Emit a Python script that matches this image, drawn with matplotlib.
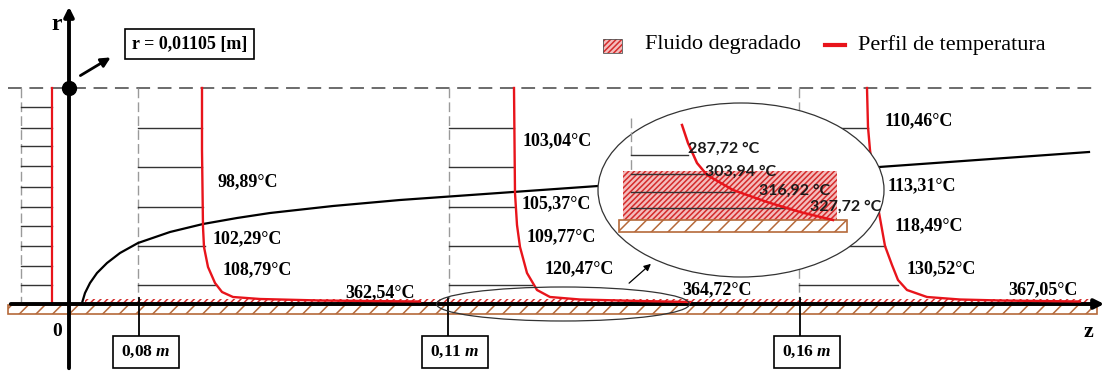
import matplotlib
matplotlib.use("Agg")
import matplotlib.pyplot as plt
from matplotlib.patches import Rectangle, Ellipse, FancyArrowPatch

plt.rcParams['font.family'] = ['Liberation Serif', 'DejaVu Sans']
plt.rcParams['mathtext.fontset'] = 'custom'
plt.rcParams['mathtext.rm'] = 'Liberation Serif:bold'
plt.rcParams['mathtext.it'] = 'Liberation Serif:italic:bold'
plt.rcParams['hatch.linewidth'] = 1.1

# schematic coordinates (z to the right, r downwards in picture units)
wall_y = 304
top_y = 88

# left inlet profile
inlet_x = [21, 52]
inlet_rows = [107, 128, 146, 166, 187, 207, 226, 246, 266, 285]

# profiles along z: dashed line position, row heights, row ends
prof_x = [138, 449, 799]
prof_rows = [128, 167, 207, 246, 285]
prof_ends = [[202, 202, 203, 205, 215],
             [514, 514, 515, 519, 532],
             [868, 869, 875, 885, 898]]

# temperature profile curves (red)
red1_z = [202, 202, 203, 204, 208, 215, 222, 233, 260, 320, 420]
red1_r = [88, 150, 227, 247, 267, 283, 292, 297, 299, 300.5, 301.5]
red2_z = [514, 515, 517, 520, 527, 537, 550, 580, 640, 690]
red2_r = [88, 193, 225, 247, 273, 290, 297, 299.5, 301, 302]
red3_z = [867, 868, 870, 874, 878, 885, 892, 898, 907, 927, 960, 1000, 1080]
red3_r = [88, 127, 150, 180, 207, 246, 265, 280, 290, 297, 299.5, 300.5, 301.5]

# thermal boundary layer (black)
bl_z = [82, 85, 90, 97, 107, 120, 138, 170, 203, 237, 270, 333, 400, 513,
        598, 700, 800, 879, 1089]
bl_r = [303, 293, 283, 273, 263, 253, 243, 232, 224, 218, 213, 206, 200, 192,
        186, 179, 173, 167, 152]

# labels along profiles
t_labels = ['98,89°C', '102,29°C', '108,79°C', '362,54°C',
            '103,04°C', '105,37°C', '109,77°C', '120,47°C', '364,72°C',
            '110,46°C', '113,31°C', '118,49°C', '130,52°C', '367,05°C']
t_x = [217, 213, 223, 345, 523, 522, 527, 545, 682, 885, 888, 895, 907, 1008]
t_y = [182, 239, 270, 293, 141, 204, 237, 269, 290, 121, 186, 226, 269, 290]

# zoomed detail
zoom_rows = [155, 174, 192, 208]
zoom_ends = [688, 706, 734, 790]
zred_z = [682, 688, 697, 707, 733, 767, 800, 833]
zred_r = [125, 143, 163, 175, 190, 202, 212, 220]
z_labels = ['287,72 °C', '303,94 °C', '316,92 °C', '327,72 °C']
z_x = [688, 705, 759, 810]
z_y = [149, 172, 191, 207]

# z positions boxes
box_x = [139, 448, 800]
box_labels = ['0,08 $m$', '0,11 $m$', '0,16 $m$']

fig = plt.figure(figsize=(11.07, 3.71), dpi=100)
ax = fig.add_axes([0, 0, 1, 1])
ax.set_xlim(0, 1107)
ax.set_ylim(371, 0)
ax.axis('off')

dash_gray = '#9a9a9a'
row_col = '#333333'
brown = '#b5693a'
red = '#e8141b'
hred = '#d42a2a'
hface = '#f4bcbc'

# top dashed line
ax.plot([8, 1097], [top_y, top_y], color='#444444', lw=1.1, dashes=(9, 5))

# inlet
ax.plot([inlet_x[0]] * 2, [top_y, wall_y - 2], color=dash_gray, lw=1, dashes=(7, 3))
for y in inlet_rows:
    ax.plot(inlet_x, [y, y], color=row_col, lw=1)
ax.plot([inlet_x[1]] * 2, [top_y, wall_y - 2], color=red, lw=1.6)

# profiles
for x, ends in zip(prof_x, prof_ends):
    ax.plot([x, x], [top_y, wall_y - 2], color=dash_gray, lw=1, dashes=(7, 3))
    for y, e in zip(prof_rows, ends):
        ax.plot([x, e], [y, y], color=row_col, lw=1)

ax.plot(bl_z, bl_r, color='black', lw=1.6, zorder=3)

# wall, degraded layer
ax.add_patch(Rectangle((85, wall_y - 5), 1005, 4, facecolor='white',
                       edgecolor=hred, hatch='/////', lw=0, zorder=3))
ax.add_patch(Rectangle((8, wall_y + 1), 1089, 9, facecolor='white',
                       edgecolor=brown, hatch='//', lw=1.2, zorder=3))
ax.add_patch(FancyArrowPatch((8, wall_y), (1107, wall_y), arrowstyle='-|>',
                             mutation_scale=14, color='black', lw=2.8, zorder=4))

for zz, rr in [(red1_z, red1_r), (red2_z, red2_r), (red3_z, red3_r)]:
    ax.plot(zz, rr, color=red, lw=1.7, zorder=5)

# r axis
ax.add_patch(FancyArrowPatch((69, 371), (69, 4), arrowstyle='-|>',
                             mutation_scale=14, color='black', lw=2.8, zorder=4))
ax.plot([69], [top_y], 'o', color='black', ms=10, zorder=5)
ax.add_patch(FancyArrowPatch((78, 77), (113, 56), arrowstyle='-|>',
                             mutation_scale=14, color='black', lw=2, zorder=5))
ax.text(189.5, 44, 'r = 0,01105 [m]', ha='center', va='center', fontsize=13,
        fontweight='bold',
        bbox=dict(boxstyle='square,pad=0.35', facecolor='white', edgecolor='black', lw=1.2))

ax.text(57, 25, 'r', ha='center', va='center', fontsize=17, fontweight='bold')
ax.text(57, 332, '0', ha='center', va='center', fontsize=14, fontweight='bold')
ax.text(1088, 332, 'z', ha='center', va='center', fontsize=16, fontweight='bold')

# position boxes
for x, lab in zip(box_x, box_labels):
    ax.plot([x, x], [298, 337], color='black', lw=1.3, zorder=5)
    ax.text(x + 7, 352, lab, ha='center', va='center', fontsize=12.5, fontweight='bold',
            bbox=dict(boxstyle='square,pad=0.45', facecolor='white', edgecolor='black',
                      lw=1.2), zorder=6)

for s, x, y in zip(t_labels, t_x, t_y):
    ax.text(x, y, s, ha='left', va='center', fontsize=13, fontweight='bold', zorder=4)

# small ellipse and arrow to detail
ax.add_patch(Ellipse((563, 304), 253, 34, facecolor='none', edgecolor='#333333',
                     lw=0.9, zorder=8))
ax.add_patch(FancyArrowPatch((627, 285), (653, 262), arrowstyle='-|>',
                             mutation_scale=10, color='black', lw=0.9, zorder=8))

# big ellipse with detail
ax.add_patch(Ellipse((741, 190), 286, 174, facecolor='white', edgecolor='#333333',
                     lw=0.9, zorder=6))
ax.plot([631, 631], [118, 220], color=dash_gray, lw=1, dashes=(7, 3), zorder=7)
ax.add_patch(Rectangle((623, 171), 214, 49, facecolor=hface,
                       edgecolor=hred, hatch='//////', lw=0, zorder=7))
for y, e in zip(zoom_rows, zoom_ends):
    ax.plot([631, e], [y, y], color=row_col, lw=1, zorder=8)
ax.add_patch(Rectangle((619, 220), 228, 12, facecolor='white',
                       edgecolor=brown, hatch='//', lw=1.2, zorder=7))
ax.plot(zred_z, zred_r, color=red, lw=1.8, zorder=9)
for s, x, y in zip(z_labels, z_x, z_y):
    ax.text(x, y, s, ha='left', va='center', fontsize=11.5, fontweight='bold',
            family=['Lato', 'DejaVu Sans'], color='#1a1a1a', zorder=10)

# legend
ax.add_patch(Rectangle((603, 39), 19, 14, facecolor=hface, edgecolor=hred,
                       hatch='//////', lw=0))
ax.add_patch(Rectangle((603, 39), 19, 14, facecolor='none', edgecolor='#555555', lw=0.6))
ax.text(645, 45, 'Fluido degradado', ha='left', va='center', fontsize=16)
ax.plot([825, 845], [45, 45], color=red, lw=3)
ax.text(858, 45, 'Perfil de temperatura', ha='left', va='center', fontsize=16)

fig.savefig('out.png', dpi=100)
